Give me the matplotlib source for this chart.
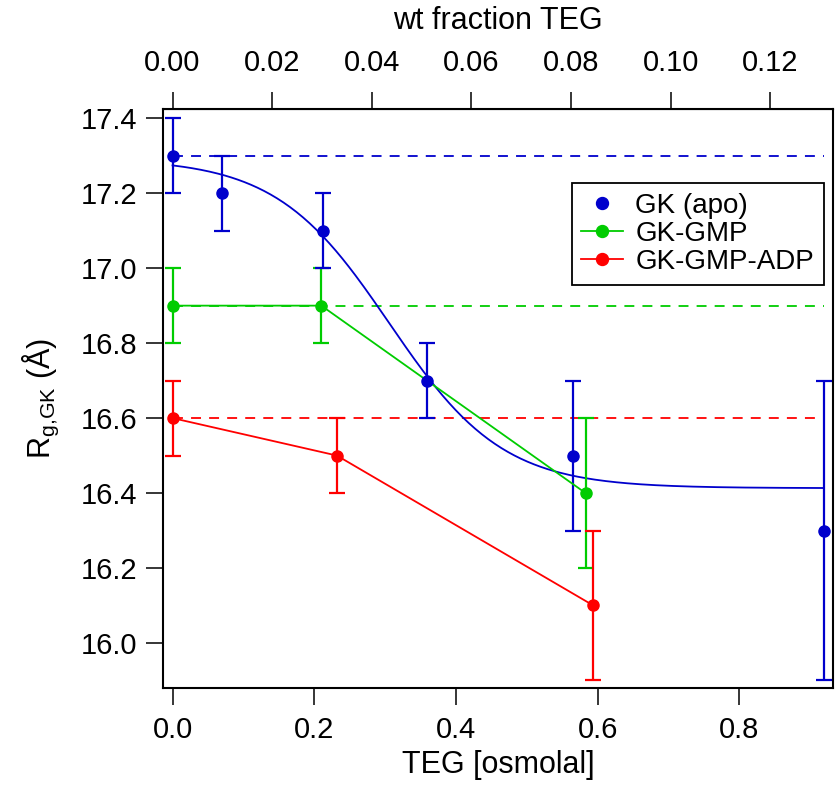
import numpy as np
import matplotlib
matplotlib.use("Agg")
import matplotlib.pyplot as plt
from matplotlib.lines import Line2D
from matplotlib.ticker import FormatStrFormatter

plt.rcParams["font.family"] = ["Liberation Sans", "DejaVu Sans"]
plt.rcParams["mathtext.fontset"] = "custom"
plt.rcParams["mathtext.rm"] = "Liberation Sans"
plt.rcParams["mathtext.it"] = "Liberation Sans"

# data
gk_x = [0.0, 0.070, 0.213, 0.359, 0.566, 0.919]
gk_y = [17.3, 17.2, 17.1, 16.7, 16.5, 16.3]
gk_err = [0.1, 0.1, 0.1, 0.1, 0.2, 0.4]

gmp_x = [0.0, 0.210, 0.583]
gmp_y = [16.9, 16.9, 16.4]
gmp_err = [0.1, 0.1, 0.2]

adp_x = [0.0, 0.232, 0.594]
adp_y = [16.6, 16.5, 16.1]
adp_err = [0.1, 0.1, 0.2]

labels = ["GK (apo)", "GK-GMP", "GK-GMP-ADP"]

# sigmoid fit to GK (apo)
fit_base = 16.413
fit_amp = 0.88
fit_xhalf = 0.306
fit_rate = 0.08

# osmolal -> wt fraction
wt_per_osm = 0.14223

blue = "#0000cc"
green = "#00cc00"
red = "#ff0000"

fig = plt.figure(figsize=(8.36, 7.86), dpi=100)
ax = fig.add_axes([0.1953, 0.1243, 0.8015, 0.7367])

xmax = gk_x[-1]
# dashed reference lines at the zero-TEG value
for yv, c in [(gk_y[0], blue), (gmp_y[0], green), (adp_y[0], red)]:
    ax.plot([0, xmax], [yv, yv], color=c, lw=1.3, ls=(0, (5.5, 4.5)))

# fit curve
xf = np.linspace(0, xmax, 300)
yf = fit_base + fit_amp / (1 + np.exp((xf - fit_xhalf) / fit_rate))
ax.plot(xf, yf, color=blue, lw=1.3)

ekw = dict(capsize=5.6, elinewidth=1.6, capthick=1.6, markersize=8)
ax.errorbar(gmp_x, gmp_y, yerr=gmp_err, fmt="o-", color=green, lw=1.3, **ekw)
ax.errorbar(adp_x, adp_y, yerr=adp_err, fmt="o-", color=red, lw=1.3, **ekw)
ax.errorbar(gk_x, gk_y, yerr=gk_err, fmt="o", color=blue, **ekw)

ax.set_xlim(-0.0131, 0.9328)
ax.set_ylim(15.879, 17.424)
ax.set_xticks([0.0, 0.2, 0.4, 0.6, 0.8])
ax.set_yticks(np.arange(16.0, 17.41, 0.2))
ax.xaxis.set_major_formatter(FormatStrFormatter("%.1f"))
ax.yaxis.set_major_formatter(FormatStrFormatter("%.1f"))
ax.tick_params(axis="x", direction="out", length=12, width=1.1, labelsize=21, pad=8)
ax.tick_params(axis="y", direction="out", length=12, width=1.1, labelsize=21, pad=7)
for s in ax.spines.values():
    s.set_linewidth(1.5)

ax.set_xlabel("TEG [osmolal]", fontsize=22, labelpad=4)
ax.set_ylabel(r"R$_{\mathrm{g{,}GK}}$ (Å)", fontsize=22, labelpad=14)

top = ax.secondary_xaxis("top", functions=(lambda x: x * wt_per_osm, lambda w: w / wt_per_osm))
top.set_xticks(np.arange(0, 0.121, 0.02))
top.xaxis.set_major_formatter(FormatStrFormatter("%.2f"))
top.tick_params(direction="out", length=12.5, width=1.1, labelsize=21, pad=11)
top.set_xlabel("wt fraction TEG", fontsize=22, labelpad=14)

handles = [
    Line2D([], [], color=blue, marker="o", ls="none", markersize=8.6),
    Line2D([], [], color=green, marker="o", lw=1.3, markersize=8.6),
    Line2D([], [], color=red, marker="o", lw=1.3, markersize=8.6),
]
leg = ax.legend(handles, labels, loc="upper right", bbox_to_anchor=(0.986, 0.8727),
                borderaxespad=0, fontsize=20, fancybox=False, edgecolor="black",
                framealpha=1, handlelength=1.5, borderpad=0.35, labelspacing=0.08,
                handletextpad=0.45)
leg.get_frame().set_linewidth(1.3)

fig.savefig("out.png", dpi=100)
